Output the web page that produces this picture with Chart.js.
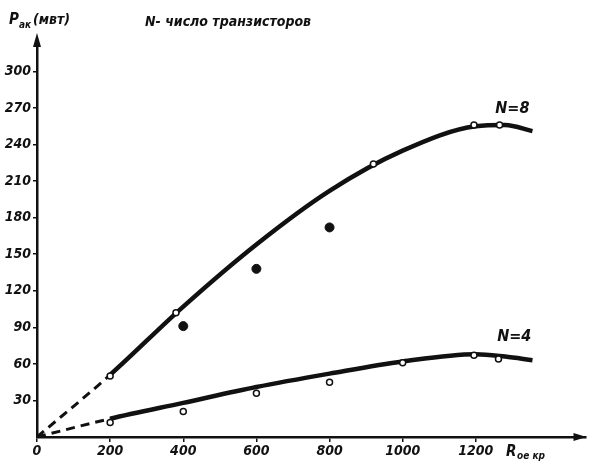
<!DOCTYPE html>
<html>
<head>
<meta charset="utf-8">
<script src="https://cdn.jsdelivr.net/npm/chart.js@4/dist/chart.umd.min.js"></script>
<style>
  body { margin: 0; background: #fff; }
  canvas { display: block; }
</style>
</head>
<body>
<canvas id="wykres" width="591" height="466"></canvas>
<script>
// krzywe (R, P)
const n8Line = [[0, 0], [200, 51], [400, 107], [600, 158], [800, 202], [1000, 235], [1200, 255], [1280, 256], [1355, 251]]
const n4Line = [[0, 0], [200, 15], [400, 28], [600, 41], [800, 52], [1000, 62], [1200, 68], [1280, 66], [1355, 63]]
// punkty pomiarowe
const n8Open = [[200, 50], [380, 102], [920, 224], [1195, 256], [1265, 256]]
const n8Dots = [[400, 91], [600, 138], [800, 172]]
const n4Open = [[200, 12], [400, 21], [600, 36], [800, 45], [1000, 61], [1195, 67], [1262, 64]]
// osie
const xTicks = [0, 200, 400, 600, 800, 1000, 1200]
const yTicks = [30, 60, 90, 120, 150, 180, 210, 240, 270, 300]

const FONT = "'DejaVu Sans Condensed', 'Liberation Sans Narrow', 'DejaVu Sans', sans-serif"
const pts = arr => arr.map(p => ({x: p[0], y: p[1]}))

function curve(data) {
    return {
        type: 'line',
        order: 2,
        data: pts(data),
        borderColor: '#111',
        borderWidth: 4.5,
        pointRadius: 0,
        fill: false,
        cubicInterpolationMode: 'monotone',
        segment: {
            // pierwszy odcinek przerywany
            borderDash: ctx => ctx.p0DataIndex === 0 ? [9, 6] : undefined,
            borderWidth: ctx => ctx.p0DataIndex === 0 ? 3 : 4.5
        }
    }
}
function marks(data, filled) {
    return {
        type: 'scatter',
        order: 1,
        data: pts(data),
        pointRadius: filled ? 4.5 : 3,
        pointBackgroundColor: filled ? '#111' : '#fff',
        pointBorderColor: '#111',
        pointBorderWidth: filled ? 1 : 1.5
    }
}

//napisy i strzałki
const napisy = {
    id: 'napisy',
    afterDraw(chart) {
        const c = chart.ctx
        const a = chart.chartArea
        const xs = chart.scales.x, ys = chart.scales.y
        c.save()
        c.fillStyle = '#111'
        // strzałki osi
        c.beginPath()
        c.moveTo(a.left, a.top - 8)
        c.lineTo(a.left - 4, a.top + 6)
        c.lineTo(a.left + 4, a.top + 6)
        c.fill()
        c.beginPath()
        c.moveTo(a.right + 1, a.bottom)
        c.lineTo(a.right - 12, a.bottom - 4)
        c.lineTo(a.right - 12, a.bottom + 4)
        c.fill()

        c.textBaseline = 'middle'
        c.textAlign = 'left'
        c.font = 'italic bold 15px ' + FONT
        c.fillText('P', 9, 20)
        c.font = 'italic bold 10px ' + FONT
        c.fillText('ак', 19, 25)
        c.font = 'italic bold 14px ' + FONT
        c.fillText('(мвт)', 33, 20)
        c.font = 'italic bold 14px ' + FONT
        c.fillText('N- число транзисторов', 145, 22)

        c.font = 'italic bold 15px ' + FONT
        c.fillText('R', 506, 452)
        c.font = 'italic bold 10px ' + FONT
        c.fillText('ое кр', 517, 456)

        c.font = 'italic bold 16px ' + FONT
        c.textAlign = 'center'
        c.fillText('N=8', xs.getPixelForValue(1300), ys.getPixelForValue(269))
        c.fillText('N=4', xs.getPixelForValue(1305), ys.getPixelForValue(82))
        c.restore()
    }
}

new Chart(document.getElementById('wykres'), {
    data: {
        datasets: [curve(n8Line), curve(n4Line), marks(n8Open, false), marks(n8Dots, true), marks(n4Open, false)]
    },
    options: {
        responsive: false,
        animation: false,
        devicePixelRatio: 1,
        layout: { padding: { top: 41, right: 1, left: 0, bottom: 0 } },
        plugins: { legend: { display: false }, tooltip: { enabled: false } },
        scales: {
            x: {
                type: 'linear',
                min: 0,
                max: 1500,
                border: { display: true, color: '#111', width: 2.5 },
                grid: { drawOnChartArea: false, tickLength: 5, color: '#111', lineWidth: 1.5 },
                afterBuildTicks: s => { s.ticks = xTicks.map(v => ({value: v})) },
                afterFit: s => { s.height = 29 },
                ticks: {
                    color: '#111',
                    padding: 1,
                    maxRotation: 0,
                    autoSkip: false,
                    callback: v => String(v),
                    font: { family: FONT, size: 14, style: 'italic', weight: 'bold' }
                }
            },
            y: {
                type: 'linear',
                min: 0,
                max: 325,
                border: { display: true, color: '#111', width: 2.5 },
                grid: { drawOnChartArea: false, tickLength: 4, color: '#111', lineWidth: 1.5 },
                afterBuildTicks: s => { s.ticks = yTicks.map(v => ({value: v})) },
                afterFit: s => { s.width = 37 },
                ticks: {
                    color: '#111',
                    padding: 2,
                    autoSkip: false,
                    callback: v => String(v),
                    font: { family: FONT, size: 14, style: 'italic', weight: 'bold' }
                }
            }
        }
    },
    plugins: [napisy]
})
</script>
</body>
</html>
